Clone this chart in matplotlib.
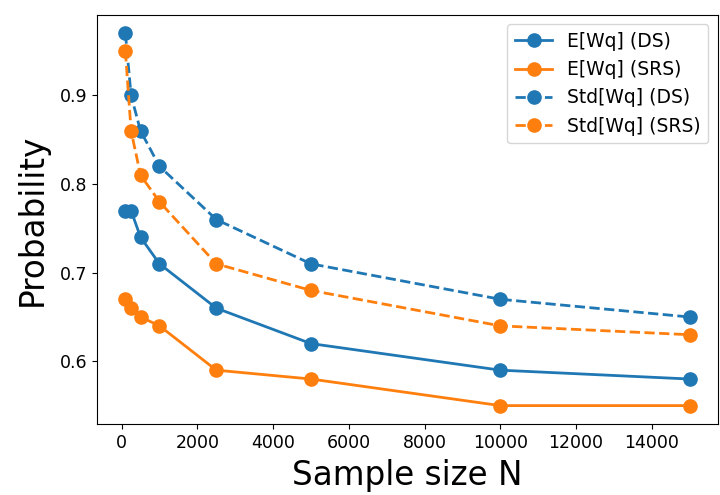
import matplotlib
matplotlib.use("Agg")
import matplotlib.pyplot as plt

N = [100, 250, 500, 1000, 2500, 5000, 10000, 15000]
e_ds = [0.77, 0.77, 0.74, 0.71, 0.66, 0.62, 0.59, 0.58]
e_srs = [0.67, 0.66, 0.65, 0.64, 0.59, 0.58, 0.55, 0.55]
std_ds = [0.97, 0.90, 0.86, 0.82, 0.76, 0.71, 0.67, 0.65]
std_srs = [0.95, 0.86, 0.81, 0.78, 0.71, 0.68, 0.64, 0.63]

fig = plt.figure(figsize=(7.2, 4.95), dpi=100)
ax = fig.add_axes([0.135, 0.143, 0.862, 0.827])
kw = dict(markersize=9.5, linewidth=2)
ax.plot(N, e_ds, '-o', color='#1f77b4', label='E[Wq] (DS)', **kw)
ax.plot(N, e_srs, '-o', color='#ff7f0e', label='E[Wq] (SRS)', **kw)
ax.plot(N, std_ds, '--o', color='#1f77b4', label='Std[Wq] (DS)', **kw)
ax.plot(N, std_srs, '--o', color='#ff7f0e', label='Std[Wq] (SRS)', **kw)
ax.set_xlabel('Sample size N', fontsize=23.5, labelpad=5)
ax.set_ylabel('Probability', fontsize=23.5, labelpad=8)
ax.tick_params(labelsize=12.5)
ax.legend(fontsize=13.5)
fig.savefig('out.png', dpi=100)
